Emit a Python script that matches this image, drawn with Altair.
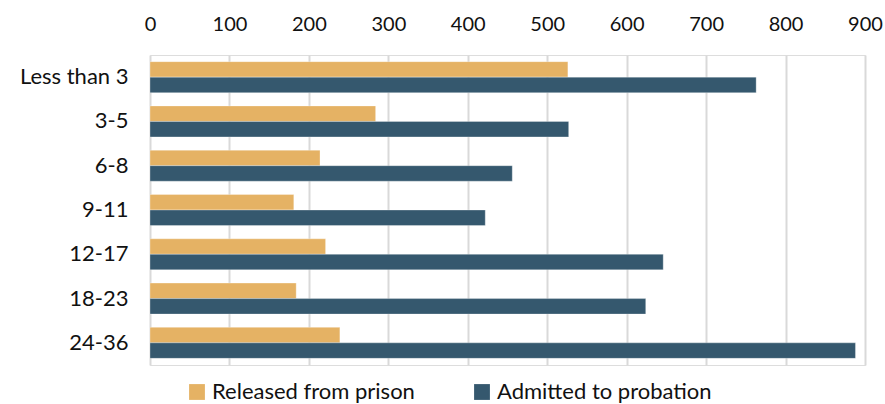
import altair as alt
import pandas as pd

categories = ["Less than 3", "3-5", "6-8", "9-11", "12-17", "18-23", "24-36"]
released = [526, 284, 214, 181, 221, 184, 239]
admitted = [763, 527, 456, 422, 646, 624, 888]
series = ["Released from prison", "Admitted to probation"]
colors = ["#E5B264", "#35586E"]
ticks = [0, 100, 200, 300, 400, 500, 600, 700, 800, 900]

rows = []
for c, r, a in zip(categories, released, admitted):
    rows.append({"cat": c, "series": series[0], "value": r})
    rows.append({"cat": c, "series": series[1], "value": a})
df = pd.DataFrame(rows)

FONT = "Lato"

chart = alt.Chart(df).mark_bar(stroke="#ffffff", strokeWidth=0.6, strokeOpacity=0.5).encode(
    x=alt.X("value:Q",
            scale=alt.Scale(domain=[0, 900], nice=False, zero=True),
            axis=alt.Axis(orient="top", values=ticks, title=None, domain=False, ticks=False,
                          labelPadding=21, labelFontSize=20, labelColor="#111111", labelFont=FONT,
                          grid=True, gridColor="#d9d9d9", gridWidth=2,
                          labelFlush=False)),
    y=alt.Y("cat:N", sort=categories,
            scale=alt.Scale(paddingInner=0.3, paddingOuter=0.15),
            axis=alt.Axis(title=None, domain=False, ticks=False, labelPadding=22,
                          labelFontSize=22, labelColor="#111111", labelFont=FONT, labelLimit=200)),
    yOffset=alt.YOffset("series:N", sort=series, scale=alt.Scale(paddingInner=0)),
    color=alt.Color("series:N", sort=series,
                    scale=alt.Scale(domain=series, range=colors),
                    legend=alt.Legend(title=None, orient="none", direction="horizontal",
                                      legendX=36, legendY=326,
                                      symbolType="square", symbolSize=250, symbolStrokeWidth=0,
                                      labelFontSize=22, labelFont=FONT, labelColor="#111111",
                                      labelLimit=400,
                                      labelOffset=4, columnPadding=56, symbolOpacity=1)),
).properties(
    width=715, height=310,
    autosize=alt.AutoSizeParams(type="none"),
    padding={"left": 150, "top": 55, "right": 20, "bottom": 39},
).configure_view(stroke=None).configure(background="white")

chart.save("out.html", embed_options={"renderer": "svg", "actions": False})
